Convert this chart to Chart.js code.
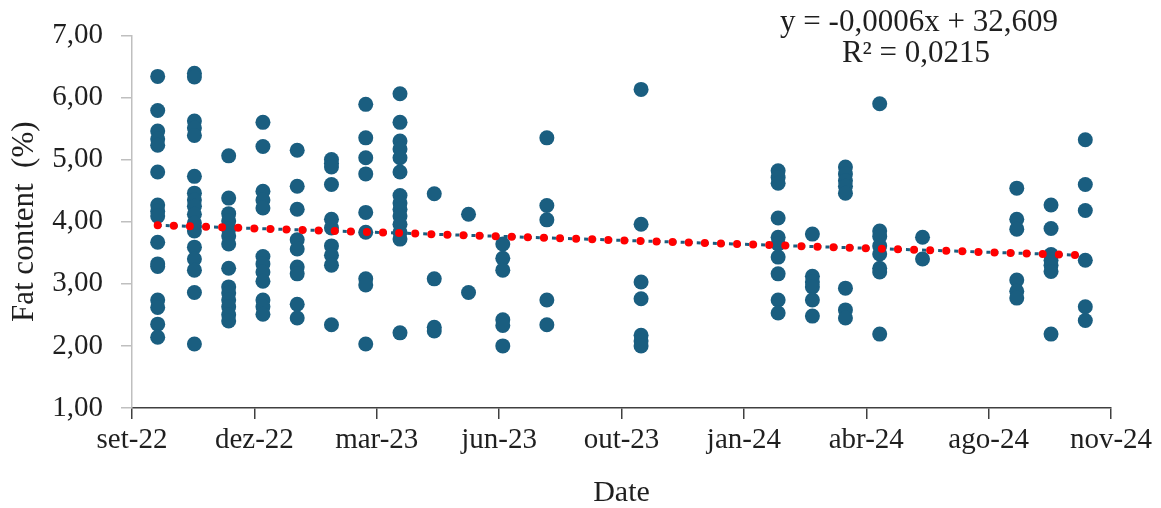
<!DOCTYPE html>
<html>
<head>
<meta charset="utf-8">
<title>Fat content over time</title>
<script src="https://cdn.jsdelivr.net/npm/chart.js@4.4.1/dist/chart.umd.min.js"></script>
<style>
  html, body { margin: 0; padding: 0; background: #ffffff; }
  #wrap { position: relative; width: 1161px; height: 508px; }
</style>
</head>
<body>
<div id="wrap"><canvas id="chart" width="1161" height="508"></canvas></div>
<script>
// Sampling dates (one per collection round)
const SAMPLE_DATES = [
  '2022-09-22', '2022-10-22', '2022-11-19', '2022-12-17', '2023-01-14',
  '2023-02-11', '2023-03-11', '2023-04-08', '2023-05-06', '2023-06-03',
  '2023-07-01', '2023-08-06', '2023-10-22', '2024-02-11', '2024-03-10',
  '2024-04-06', '2024-05-04', '2024-06-08', '2024-08-24', '2024-09-21',
  '2024-10-19'
];

// Fat content (%) of the samples collected on each date
const FAT_VALUES = [
  [6.34, 5.79, 5.46, 5.33, 5.23, 4.80, 4.27, 4.17, 4.09, 3.67, 3.32, 3.28, 2.74, 2.62, 2.35, 2.14],
  [6.39, 6.33, 5.62, 5.51, 5.39, 4.73, 4.46, 4.35, 4.25, 4.12, 3.98, 3.85, 3.59, 3.40, 3.22, 2.86, 2.03],
  [5.06, 4.38, 4.13, 4.01, 3.88, 3.77, 3.64, 3.25, 2.95, 2.85, 2.74, 2.63, 2.50, 2.40],
  [5.60, 5.21, 4.49, 4.35, 4.22, 3.44, 3.32, 3.19, 3.04, 2.74, 2.63, 2.51],
  [5.15, 4.57, 4.20, 3.71, 3.56, 3.27, 3.16, 2.67, 2.45],
  [5.00, 4.94, 4.88, 4.60, 4.04, 3.90, 3.61, 3.46, 3.30, 2.34],
  [5.89, 5.35, 5.03, 4.77, 4.15, 3.83, 3.08, 2.98, 2.03],
  [6.06, 5.60, 5.30, 5.17, 5.03, 4.80, 4.42, 4.30, 4.20, 4.09, 3.96, 3.83, 3.72, 2.21],
  [4.45, 3.08, 2.30, 2.24],
  [4.12, 2.86],
  [3.64, 3.41, 3.22, 2.42, 2.33, 2.00],
  [5.35, 4.26, 4.03, 2.74, 2.34],
  [6.13, 3.96, 3.03, 2.76, 2.17, 2.08, 2.00],
  [4.82, 4.71, 4.62, 4.06, 3.75, 3.64, 3.43, 3.16, 2.74, 2.53],
  [3.80, 3.12, 3.03, 2.95, 2.74, 2.48],
  [4.88, 4.77, 4.66, 4.57, 4.46, 2.93, 2.58, 2.45],
  [5.90, 3.85, 3.76, 3.61, 3.48, 3.25, 3.19, 2.19],
  [3.75, 3.40],
  [4.54, 4.04, 3.88, 3.06, 2.88, 2.77],
  [4.27, 3.89, 3.47, 3.38, 3.30, 3.20, 2.19],
  [5.32, 4.60, 4.18, 3.38, 2.63, 2.41]
];

// Axis ticks
const X_AXIS_START = '2022-09-01';
const X_STEP_DAYS = 100;
const X_TICK_LABELS = ['set-22', 'dez-22', 'mar-23', 'jun-23', 'out-23', 'jan-24', 'abr-24', 'ago-24', 'nov-24'];
const Y_TICKS = [1, 2, 3, 4, 5, 6, 7];

// Linear trend on the date serial number (slope shown rounded in the label)
const TREND_SLOPE = -0.0006395;
const TREND_INTERCEPT = 32.609;
const TREND_LABEL = ['y = -0,0006x + 32,609', 'R\u00B2 = 0,0215'];

// ---------------------------------------------------------------------------
const EXCEL_EPOCH = Date.UTC(1899, 11, 30);
const toSerial = iso => Math.round((Date.parse(iso) - EXCEL_EPOCH) / 86400000);

const xMin = toSerial(X_AXIS_START);
const xMax = xMin + X_STEP_DAYS * (X_TICK_LABELS.length - 1);

const points = SAMPLE_DATES.flatMap((d, i) =>
  FAT_VALUES[i].map(v => ({ x: toSerial(d), y: v })));

const trendX = [toSerial(SAMPLE_DATES[0]), toSerial(SAMPLE_DATES[SAMPLE_DATES.length - 1])];
const trendPoints = trendX.map(x => ({ x, y: TREND_INTERCEPT + TREND_SLOPE * x }));

const FONT = '"Liberation Serif", "Times New Roman", serif';
const TEXT = '#1f1f1f';
const MARKER = '#1a5e80';

const trendLabel = {
  id: 'trendLabel',
  afterDraw(chart) {
    const { ctx } = chart;
    ctx.save();
    ctx.font = '31px ' + FONT;
    ctx.fillStyle = TEXT;
    ctx.textAlign = 'center';
    ctx.textBaseline = 'middle';
    ctx.fillText(TREND_LABEL[0], 919, 23);
    ctx.fillText(TREND_LABEL[1], 916, 54);
    ctx.restore();
  }
};

new Chart(document.getElementById('chart'), {
  type: 'scatter',
  data: {
    datasets: [
      {
        // red dotted trend line
        type: 'line',
        data: trendPoints,
        borderColor: '#ff0000',
        borderWidth: 8,
        borderCapStyle: 'round',
        borderDash: [0, 16.1],
        pointRadius: 0,
        fill: false
      },
      {
        // blue dotted trend line underneath
        type: 'line',
        data: trendPoints,
        borderColor: MARKER,
        borderWidth: 3,
        borderDash: [4, 4.05],
        pointRadius: 0,
        fill: false
      },
      {
        data: points,
        backgroundColor: MARKER,
        borderColor: MARKER,
        borderWidth: 0,
        pointRadius: 7.5,
        pointHoverRadius: 7.5
      }
    ]
  },
  options: {
    responsive: false,
    animation: false,
    devicePixelRatio: 1,
    layout: { padding: { left: 0, right: 50, top: 30, bottom: 0 } },
    plugins: { legend: { display: false }, tooltip: { enabled: false } },
    scales: {
      x: {
        type: 'linear',
        min: xMin,
        max: xMax,
        afterBuildTicks: s => { s.ticks = X_TICK_LABELS.map((_, i) => ({ value: xMin + i * X_STEP_DAYS })); },
        afterFit: s => { s.height = 100; },
        ticks: {
          callback: (v, i) => X_TICK_LABELS[i],
          autoSkip: false,
          maxRotation: 0,
          padding: 4,
          color: TEXT,
          font: { family: FONT, size: 29 }
        },
        grid: { drawOnChartArea: false, tickLength: 11, color: '#404040', lineWidth: 1.5 },
        border: { color: '#404040', width: 1.5 },
        title: {
          display: true,
          text: 'Date',
          color: TEXT,
          font: { family: FONT, size: 30, lineHeight: 1 },
          padding: { top: 0, bottom: 0 }
        }
      },
      y: {
        min: 1,
        max: 7,
        afterBuildTicks: s => { s.ticks = Y_TICKS.map(v => ({ value: v })); },
        afterFit: s => { s.width = 132; },
        ticks: {
          callback: v => v.toFixed(2).replace('.', ','),
          padding: 18,
          color: TEXT,
          font: { family: FONT, size: 29 }
        },
        grid: { drawOnChartArea: false, tickLength: 11, color: '#bfbfbf', lineWidth: 1.5 },
        border: { color: '#bfbfbf', width: 1.5 },
        title: {
          display: true,
          text: 'Fat content  (%)',
          color: TEXT,
          font: { family: FONT, size: 31, lineHeight: 1 },
          padding: { top: 9, bottom: 0 }
        }
      }
    }
  },
  plugins: [trendLabel]
});
</script>
</body>
</html>
